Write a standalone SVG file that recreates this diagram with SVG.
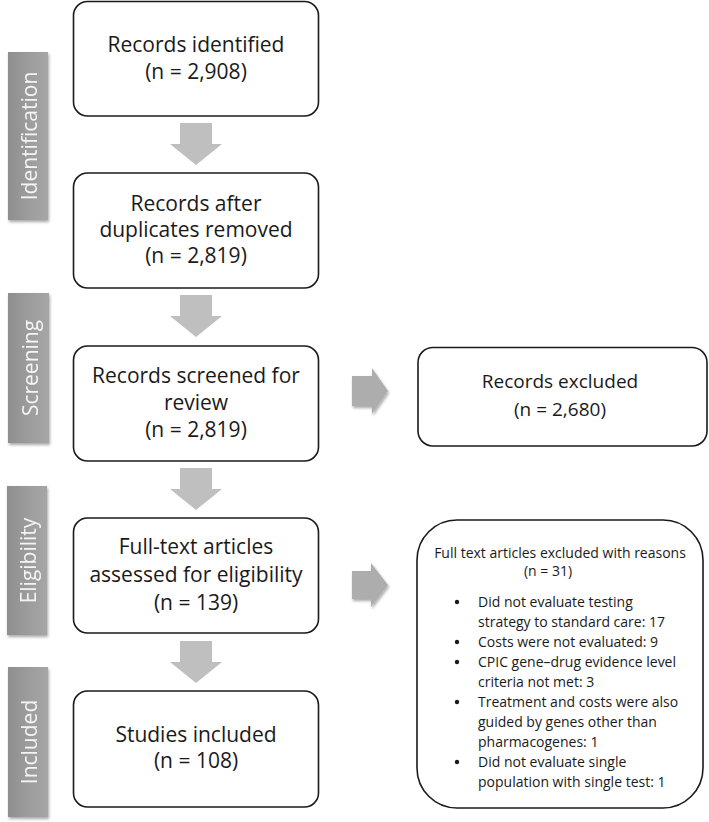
<svg xmlns="http://www.w3.org/2000/svg" width="709" height="822" viewBox="0 0 709 822">
<defs>
<linearGradient id="lab" x1="0" y1="0" x2="1" y2="0">
<stop offset="0" stop-color="#8e8e8e"/>
<stop offset="0.5" stop-color="#9c9c9c"/>
<stop offset="1" stop-color="#a6a6a6"/>
</linearGradient>
<filter id="sh" x="-20%" y="-10%" width="150%" height="130%">
<feGaussianBlur in="SourceAlpha" stdDeviation="1.5"/>
<feOffset dx="1" dy="2" result="b"/>
<feComponentTransfer><feFuncA type="linear" slope="0.35"/></feComponentTransfer>
<feMerge><feMergeNode/><feMergeNode in="SourceGraphic"/></feMerge>
</filter>
</defs>
<style>
.box{fill:#fff;stroke:#1a1a1a;stroke-width:1.6}
.t{font-family:"Open Sans","Liberation Sans",sans-serif;fill:#1a1a1a;text-anchor:middle}
.big{font-size:21px}
.mid{font-size:19px}
.sm{font-size:14px}
.l{text-anchor:start}
.lab{fill:url(#lab)}
.lt{font-family:"Open Sans","Liberation Sans",sans-serif;font-size:21px;fill:#f4f4f4;text-anchor:middle;dominant-baseline:central}
.arr{fill:#bfbfbf}
.rarr{fill:#adadad}
</style>
<rect width="709" height="822" fill="#fff"/>

<g id="stage-identification" filter="url(#sh)">
<rect class="lab" x="8" y="52" width="40" height="168"/>
<text class="lt" transform="translate(29,136) rotate(-90)">Identification</text>
</g>
<g id="stage-screening" filter="url(#sh)">
<rect class="lab" x="8" y="293" width="41" height="150"/>
<text class="lt" transform="translate(29.5,368) rotate(-90)">Screening</text>
</g>
<g id="stage-eligibility" filter="url(#sh)">
<rect class="lab" x="7" y="486" width="40" height="149"/>
<text class="lt" transform="translate(28,560.5) rotate(-90)">Eligibility</text>
</g>
<g id="stage-included" filter="url(#sh)">
<rect class="lab" x="8" y="667" width="40" height="150"/>
<text class="lt" transform="translate(29,742) rotate(-90)">Included</text>
</g>

<g id="records-identified">
<rect class="box" x="73.5" y="1.5" width="245" height="114.5" rx="14"/>
<text class="t big" x="196" y="52">Records identified</text>
<text class="t big" x="196" y="79">(n = 2,908)</text>
</g>
<g id="records-after-duplicates">
<rect class="box" x="73.5" y="173" width="245" height="115" rx="14"/>
<text class="t big" x="196" y="211">Records after</text>
<text class="t big" x="196" y="237">duplicates removed</text>
<text class="t big" x="196" y="263">(n = 2,819)</text>
</g>
<g id="records-screened">
<rect class="box" x="73.5" y="346" width="245" height="115" rx="14"/>
<text class="t big" x="196" y="383">Records screened for</text>
<text class="t big" x="196" y="410">review</text>
<text class="t big" x="196" y="437">(n = 2,819)</text>
</g>
<g id="full-text-assessed">
<rect class="box" x="73.5" y="518" width="245" height="115" rx="14"/>
<text class="t big" x="196" y="554">Full-text articles</text>
<text class="t big" x="196" y="582">assessed for eligibility</text>
<text class="t big" x="196" y="610">(n = 139)</text>
</g>
<g id="studies-included">
<rect class="box" x="73.5" y="691" width="245" height="116" rx="14"/>
<text class="t big" x="196" y="742">Studies included</text>
<text class="t big" x="196" y="768">(n = 108)</text>
</g>
<g id="records-excluded">
<rect class="box" x="418" y="347.5" width="289" height="98.5" rx="15"/>
<text class="t mid" x="560" y="388">Records excluded</text>
<text class="t mid" x="560" y="416">(n = 2,680)</text>
</g>
<g id="full-text-excluded">
<rect class="box" x="417" y="520" width="286" height="288" rx="40"/>
<text class="t sm" x="560" y="558">Full text articles excluded with reasons</text>
<text class="t sm" x="548" y="576">(n = 31)</text>
<g class="t sm">
<circle cx="457" cy="602" r="2.2" fill="#1a1a1a"/>
<circle cx="457" cy="642" r="2.2" fill="#1a1a1a"/>
<circle cx="457" cy="662" r="2.2" fill="#1a1a1a"/>
<circle cx="457" cy="702" r="2.2" fill="#1a1a1a"/>
<circle cx="457" cy="762" r="2.2" fill="#1a1a1a"/>
</g>
<text class="t sm l" x="478" y="607">Did not evaluate testing</text>
<text class="t sm l" x="478" y="627">strategy to standard care: 17</text>
<text class="t sm l" x="478" y="647">Costs were not evaluated: 9</text>
<text class="t sm l" x="478" y="667">CPIC gene–drug evidence level</text>
<text class="t sm l" x="478" y="687">criteria not met: 3</text>
<text class="t sm l" x="478" y="707">Treatment and costs were also</text>
<text class="t sm l" x="478" y="727">guided by genes other than</text>
<text class="t sm l" x="478" y="747">pharmacogenes: 1</text>
<text class="t sm l" x="478" y="767">Did not evaluate single</text>
<text class="t sm l" x="478" y="787">population with single test: 1</text>
</g>

<g id="connectors">
<polygon class="arr" points="180,123 212,123 212,144 222,144 196,165 170,144 180,144"/>
<polygon class="arr" points="180,295 212,295 212,316 222,316 196,337 170,316 180,316"/>
<polygon class="arr" points="180,468 212,468 212,489 222,489 196,510 170,489 180,489"/>
<polygon class="arr" points="180,641 212,641 212,662 222,662 196,683 170,662 180,662"/>
<polygon class="rarr" filter="url(#sh)" points="352,376 372,376 372,368 388,391 372,414 372,406 352,406"/>
<polygon class="rarr" filter="url(#sh)" points="352,571 371,571 371,563 388,585 371,607 371,599 352,599"/>
</g>
</svg>
